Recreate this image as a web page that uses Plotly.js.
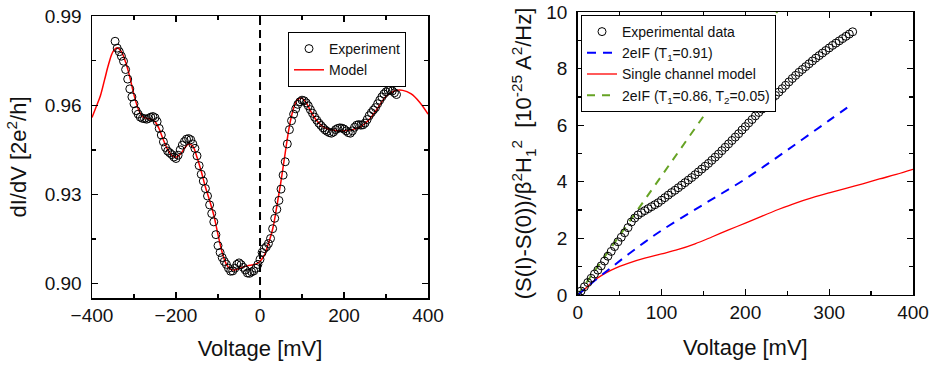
<!DOCTYPE html>
<html>
<head>
<meta charset="utf-8">
<script src="https://cdn.plot.ly/plotly-3.0.1.min.js"></script>
<style>html,body{margin:0;padding:0;background:#fff;}#chart{width:935px;height:366px;}</style>
</head>
<body>
<div id="chart"></div>
<script>
// ---- Left panel: differential conductance ----
var expV = [-345,-340,-335,-330,-325,-320,-315,-310,-305,-300,-295,-290,-285,-280,-275,-270,-265,-260,-255,-250,-245,-240,-235,-230,-225,-220,-215,-210,-205,-200,-195,-190,-185,-180,-175,-170,-165,-160,-155,-150,-145,-140,-135,-130,-125,-120,-115,-110,-105,-100,-95,-90,-85,-80,-75,-70,-65,-60,-55,-50,-45,-40,-35,-30,-25,-20,-15,-10,-5,0,5,10,15,20,25,30,35,40,45,50,55,60,65,70,75,80,85,90,95,100,105,110,115,120,125,130,135,140,145,150,155,160,165,170,175,180,185,190,195,200,205,210,215,220,225,230,235,240,245,250,255,260,265,270,275,280,285,290,295,300,305,310,315,320,325];
var expG = [0.9815,0.9792,0.9780,0.9765,0.9748,0.9720,0.9688,0.9655,0.9628,0.9605,0.9582,0.9570,0.9560,0.9556,0.9555,0.9553,0.9556,0.9560,0.9562,0.9558,0.9545,0.9522,0.9500,0.9477,0.9458,0.9446,0.9440,0.9434,0.9426,0.9421,0.9432,0.9450,0.9466,0.9478,0.9486,0.9488,0.9484,0.9470,0.9455,0.9430,0.9397,0.9368,0.9345,0.9320,0.9295,0.9265,0.9236,0.9208,0.9165,0.9128,0.9105,0.9088,0.9075,0.9065,0.9052,0.9042,0.9043,0.9052,0.9065,0.9070,0.9064,0.9055,0.9046,0.9036,0.9035,0.9040,0.9043,0.9052,0.9065,0.9082,0.9105,0.9118,0.9124,0.9135,0.9152,0.9185,0.9220,0.9250,0.9280,0.9318,0.9365,0.9410,0.9470,0.9518,0.9548,0.9570,0.9588,0.9603,0.9612,0.9617,0.9615,0.9608,0.9598,0.9585,0.9573,0.9560,0.9550,0.9540,0.9532,0.9524,0.9517,0.9512,0.9508,0.9506,0.9510,0.9518,0.9522,0.9524,0.9523,0.9520,0.9514,0.9508,0.9506,0.9514,0.9526,0.9533,0.9535,0.9533,0.9534,0.9540,0.9552,0.9565,0.9575,0.9584,0.9592,0.9605,0.9617,0.9628,0.9638,0.9645,0.9650,0.9651,0.9648,0.9642,0.9636];
var modelV = [-400,-390,-380,-370,-360,-350,-340,-330,-320,-310,-300,-290,-280,-270,-260,-250,-240,-230,-220,-210,-200,-190,-180,-170,-160,-150,-140,-130,-120,-110,-100,-90,-80,-70,-60,-50,-40,-30,-20,-10,0,10,20,30,40,50,60,70,80,90,100,110,120,130,140,150,160,180,200,220,240,260,280,300,320,340,360,380,400];
var modelG = [0.9559,0.9595,0.9632,0.9686,0.9740,0.9780,0.9793,0.9780,0.9745,0.9695,0.9635,0.9588,0.9562,0.9556,0.9553,0.9545,0.9520,0.9483,0.9452,0.9432,0.9425,0.9435,0.9455,0.9470,0.9462,0.9425,0.9378,0.9325,0.9280,0.9230,0.9165,0.9105,0.9065,0.9048,0.9046,0.9051,0.9056,0.9060,0.9063,0.9066,0.9075,0.9095,0.9135,0.9183,0.9260,0.9345,0.9440,0.9530,0.9590,0.9620,0.9623,0.9608,0.9582,0.9558,0.9540,0.9528,0.9521,0.9515,0.9514,0.9518,0.9528,0.9552,0.9590,0.9630,0.9648,0.9650,0.9638,0.9610,0.9570];

// ---- Right panel: excess noise ----
var noiseV = [0,4,8,12,16,20,24,28,32,36,40,44,48,52,56,60,64,68,72,76,80,84,88,92,96,100,104,108,112,116,120,124,128,132,136,140,144,148,152,156,160,164,168,172,176,180,184,188,192,196,200,204,208,212,216,220,224,228,232,236,240,244,248,252,256,260,264,268,272,276,280,284,288,292,296,300,304,308,312,316,320,324,328];
var noiseS = [0,0.14,0.29,0.44,0.59,0.74,0.88,1.03,1.20,1.37,1.54,1.71,1.88,2.04,2.20,2.38,2.58,2.72,2.83,2.91,2.98,3.05,3.12,3.19,3.26,3.35,3.44,3.53,3.62,3.70,3.79,3.88,3.97,4.06,4.15,4.25,4.35,4.45,4.55,4.65,4.76,4.87,4.98,5.10,5.22,5.34,5.46,5.58,5.70,5.83,5.95,6.08,6.20,6.33,6.45,6.57,6.69,6.81,6.93,7.05,7.17,7.29,7.41,7.53,7.65,7.76,7.87,7.97,8.07,8.17,8.27,8.37,8.46,8.55,8.64,8.73,8.82,8.90,8.98,9.06,9.14,9.22,9.30];
var blueV = [0,20,40,60,80,100,150,200,250,300,328];
var blueS = [0,0.50,0.97,1.43,1.87,2.28,3.20,4.10,5.12,6.17,6.76];
var redV = [0,10,20,30,40,50,60,80,100,120,140,160,180,200,220,240,260,280,300,320,340,360,380,400];
var redS = [0,0.25,0.52,0.72,0.88,1.01,1.12,1.30,1.45,1.61,1.81,2.05,2.30,2.54,2.79,3.03,3.25,3.44,3.61,3.77,3.93,4.10,4.26,4.44];
var greenV = [0,240];
var greenS = [0,10.1];

var FONT = 'Liberation Sans, Arial, Helvetica, sans-serif';

var traces = [
  {x: modelV, y: modelG, xaxis:'x', yaxis:'y', type:'scatter', mode:'lines', name:'Model',
   line:{color:'#ff0000', width:1.5, shape:'spline'}, legend:'legend', legendrank:2},
  {x: expV, y: expG, xaxis:'x', yaxis:'y', type:'scatter', mode:'markers', name:'Experiment',
   marker:{symbol:'circle-open', size:8, color:'#000', line:{width:1}}, legend:'legend', legendrank:1},
  {x: greenV, y: greenS, xaxis:'x2', yaxis:'y2', type:'scatter', mode:'lines', name:'2eIF (T<sub>1</sub>=0.86, T<sub>2</sub>=0.05)',
   line:{color:'#66a324', width:2, dash:'8px,7px'}, legend:'legend2', legendrank:4},
  {x: redV, y: redS, xaxis:'x2', yaxis:'y2', type:'scatter', mode:'lines', name:'Single channel model',
   line:{color:'#ff0000', width:1.3, shape:'spline'}, legend:'legend2', legendrank:3},
  {x: blueV, y: blueS, xaxis:'x2', yaxis:'y2', type:'scatter', mode:'lines', name:'2eIF (T<sub>1</sub>=0.91)',
   line:{color:'#0000ff', width:2, dash:'9px,7px', shape:'spline'}, legend:'legend2', legendrank:2},
  {x: noiseV, y: noiseS, xaxis:'x2', yaxis:'y2', type:'scatter', mode:'markers', name:'Experimental data',
   marker:{symbol:'circle-open', size:8, color:'#000', line:{width:1}}, legend:'legend2', legendrank:1}
];

function axisBase() {
  return {
    showgrid:false, zeroline:false, showline:true, linecolor:'#000', linewidth:1.5,
    mirror:'ticks', ticks:'inside', ticklen:6, tickwidth:1.3, tickcolor:'#000',
    tickfont:{family:FONT, size:19, color:'#111'}, ticklabelstandoff:5
  };
}

var xa = Object.assign(axisBase(), {domain:[0, 0.4093], range:[-400,400], tickvals:[-400,-200,0,200,400],
  ticklabelstandoff:0,
  minor:{tickvals:[-300,-100,100,300], ticklen:4, ticks:'inside', tickcolor:'#000', tickwidth:1.3},
  title:{text:'Voltage [mV]', font:{family:FONT, size:22, color:'#111'}, standoff:15}, anchor:'y'});
var ya = Object.assign(axisBase(), {domain:[0, 0.986], range:[0.8952, 0.99], tickvals:[0.90,0.93,0.96,0.99],
  ticktext:['0.90','0.93','0.96','0.99'],
  minor:{tickvals:[0.915,0.945,0.975], ticklen:4, ticks:'inside', tickcolor:'#000', tickwidth:1.3},
  title:{text:'dI/dV [2e<sup>2</sup>/h]', font:{family:FONT, size:22, color:'#111'}, standoff:12}, anchor:'x'});
var xa2 = Object.assign(axisBase(), {domain:[0.5916, 1], range:[0,400], tickvals:[0,100,200,300,400],
  ticklabelstandoff:0,
  minor:{tickvals:[50,150,250,350], ticklen:4, ticks:'inside', tickcolor:'#000', tickwidth:1.3},
  title:{text:'Voltage [mV]', font:{family:FONT, size:22, color:'#111'}, standoff:17}, anchor:'y2'});
var ya2 = Object.assign(axisBase(), {domain:[0.0105, 1], range:[0,10], tickvals:[0,2,4,6,8,10],
  minor:{tickvals:[1,3,5,7,9], ticklen:4, ticks:'inside', tickcolor:'#000', tickwidth:1.3},
  title:{text:'(S(I)-S(0))/β<sup>2</sup>H<sub>1</sub><sup>2</sup>  [10<sup>-25</sup> A<sup>2</sup>/Hz]', font:{family:FONT, size:22, color:'#111'}, standoff:8}, anchor:'x2'});

var layout = {
  width:935, height:366,
  margin:{l:92, r:22, t:12, b:68, pad:0},
  paper_bgcolor:'#fff', plot_bgcolor:'#fff',
  font:{family:FONT, color:'#111'},
  showlegend:true,
  xaxis:xa, yaxis:ya, xaxis2:xa2, yaxis2:ya2,
  legend:{x:(288-92)/821, y:(298-32)/286, xanchor:'left', yanchor:'top', bgcolor:'#fff',
    bordercolor:'#000', borderwidth:1, font:{family:FONT, size:14, color:'#111'}, traceorder:'normal'},
  legend2:{x:(581-92)/821, y:(298-15)/286, xanchor:'left', yanchor:'top', bgcolor:'#fff',
    bordercolor:'#000', borderwidth:1, font:{family:FONT, size:14, color:'#111'}, traceorder:'normal'},
  shapes:[{type:'line', xref:'x', yref:'y domain', x0:0, x1:0, y0:0, y1:1,
    line:{color:'#000', width:2, dash:'8px,5px'}, layer:'above'}]
};

Plotly.newPlot('chart', traces, layout, {staticPlot:true, displayModeBar:false});
</script>
</body>
</html>
